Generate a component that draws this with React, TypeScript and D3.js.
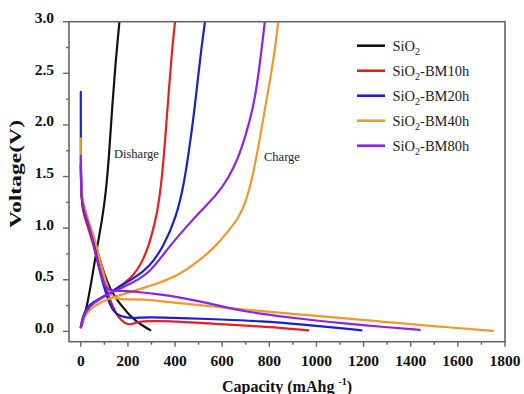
import React from "react";
import * as d3 from "d3";

// ---------- data (capacity mAh/g, voltage V) ----------
const seriesNames = ["SiO2", "SiO2-BM10h", "SiO2-BM20h", "SiO2-BM40h", "SiO2-BM80h"];
const seriesColors = ["#111111", "#e3211f", "#1c1fcf", "#f0982e", "#8a24e6"];

const sio2Discharge: [number, number][] = [
  [0, 1.62], [2, 1.35], [8, 1.2], [20, 1.1], [35, 1.02], [53, 0.92], [75, 0.74], [100, 0.55],
  [125, 0.41], [152, 0.31], [180, 0.23], [209, 0.15], [240, 0.09], [270, 0.045], [295, 0.012],
];
const sio2Charge: [number, number][] = [
  [3, 0.05], [12, 0.12], [25, 0.23], [45, 0.48], [68, 0.8], [90, 1.07], [108, 1.37], [121, 1.74],
  [134, 2.2], [148, 2.62], [164, 3.0],
];

const bm10Discharge: [number, number][] = [
  [0, 1.6], [2, 1.32], [8, 1.18], [20, 1.08], [35, 0.98], [60, 0.78], [85, 0.58], [110, 0.4],
  [130, 0.27], [150, 0.17], [170, 0.11], [190, 0.075], [210, 0.065], [230, 0.08], [260, 0.1],
  [330, 0.1], [421, 0.095], [550, 0.075], [700, 0.055], [850, 0.035], [965, 0.01],
];
const bm10Charge: [number, number][] = [
  [0, 0.04], [8, 0.13], [25, 0.22], [55, 0.28], [100, 0.34], [130, 0.38], [167, 0.44],
  [223, 0.53], [272, 0.72], [300, 0.92], [325, 1.15], [343, 1.45], [358, 1.85], [371, 2.25],
  [386, 2.7], [400, 3.0],
];

const bm20Discharge: [number, number][] = [
  [0, 2.32], [0, 2.0], [0.5, 1.72], [2, 1.35], [8, 1.2], [20, 1.1], [39, 1.0], [60, 0.8],
  [82, 0.565], [100, 0.42], [117, 0.3], [138, 0.19], [167, 0.145], [216, 0.125], [280, 0.14],
  [421, 0.13], [600, 0.115], [760, 0.1], [950, 0.065], [1099, 0.033], [1191, 0.01],
];
const bm20Charge: [number, number][] = [
  [0, 0.04], [8, 0.14], [25, 0.23], [55, 0.29], [100, 0.34], [167, 0.44], [223, 0.51],
  [294, 0.63], [350, 0.82], [405, 1.1], [440, 1.45], [462, 1.8], [480, 2.1], [497, 2.45],
  [512, 2.75], [527, 3.0],
];

const bm40Discharge: [number, number][] = [
  [0, 1.87], [0, 1.6], [4, 1.28], [15, 1.22], [30, 1.08], [61, 0.89], [80, 0.7], [96, 0.565],
  [115, 0.42], [131, 0.34], [160, 0.31], [200, 0.31], [265, 0.31], [350, 0.29], [477, 0.26],
  [700, 0.21], [900, 0.17], [1099, 0.13], [1300, 0.09], [1500, 0.05], [1749, 0.005],
];
const bm40Charge: [number, number][] = [
  [0, 0.04], [8, 0.11], [25, 0.18], [53, 0.24], [100, 0.3], [150, 0.34], [195, 0.37],
  [294, 0.44], [407, 0.53], [506, 0.69], [570, 0.82], [625, 0.97], [670, 1.1], [700, 1.25],
  [730, 1.5], [758, 1.85], [785, 2.2], [808, 2.5], [825, 2.75], [838, 3.0],
];

const bm80Discharge: [number, number][] = [
  [0, 1.7], [1, 1.4], [6, 1.24], [20, 1.12], [39, 1.0], [60, 0.78], [82, 0.57], [100, 0.45],
  [118, 0.4], [140, 0.39], [170, 0.395], [250, 0.38], [330, 0.36], [421, 0.33], [548, 0.27],
  [620, 0.23], [704, 0.19], [831, 0.15], [960, 0.115], [1099, 0.08], [1300, 0.04], [1438, 0.015],
];
const bm80Charge: [number, number][] = [
  [0, 0.04], [8, 0.13], [32, 0.24], [96, 0.34], [152, 0.4], [220, 0.47], [294, 0.57],
  [364, 0.79], [435, 0.98], [506, 1.16], [576, 1.32], [625, 1.48], [665, 1.66], [700, 1.9],
  [730, 2.15], [752, 2.45], [768, 2.75], [781, 3.0],
];

const seriesCurves = [
  [sio2Discharge, sio2Charge],
  [bm10Discharge, bm10Charge],
  [bm20Discharge, bm20Charge],
  [bm40Discharge, bm40Charge],
  [bm80Discharge, bm80Charge],
];

const xTicks = [0, 200, 400, 600, 800, 1000, 1200, 1400, 1600, 1800];
const xMinorTicks = [100, 300, 500, 700, 900, 1100, 1300, 1500, 1700];
const yTicks = [0, 0.5, 1.0, 1.5, 2.0, 2.5, 3.0];
const yMinorTicks = [0.25, 0.75, 1.25, 1.75, 2.25, 2.75];

// ---------- layout ----------
const W = 524;
const H = 394;
const left = 69;
const right = 505;
const top = 21.7;
const bottom = 341.7;
const serif = "'Liberation Serif', 'Times New Roman', serif";
const axisColor = "#666666";

export default function App() {
  const x = d3.scaleLinear().domain([-50, 1800]).range([left, right]);
  const y = d3.scaleLinear().domain([-0.1, 3.0]).range([bottom, top]);
  const line = d3
    .line<[number, number]>()
    .x((d) => x(d[0]))
    .y((d) => y(d[1]))
    .curve(d3.curveBasis);

  return (
    <svg
      width={W}
      height={H}
      viewBox={`0 0 ${W} ${H}`}
      style={{ position: "absolute", left: 0, top: 0, background: "#fff" }}
    >
      <rect x={0} y={0} width={W} height={H} fill="#fff" />
      <defs>
        <clipPath id="plot">
          <rect x={left} y={top} width={right - left} height={bottom - top} />
        </clipPath>
      </defs>

      {/* curves */}
      <g clipPath="url(#plot)" fill="none" strokeWidth={2.2} strokeLinejoin="round" strokeLinecap="round">
        {seriesCurves.map((pair, i) =>
          pair.map((pts, j) => (
            <path key={`${i}-${j}`} d={line(pts) || ""} stroke={seriesColors[i]} />
          ))
        )}
      </g>

      {/* frame */}
      <rect
        x={left}
        y={top}
        width={right - left}
        height={bottom - top}
        fill="none"
        stroke={axisColor}
        strokeWidth={1.6}
      />

      {/* ticks */}
      <g stroke={axisColor} strokeWidth={1.4}>
        {xTicks.map((t) => (
          <line key={`xt${t}`} x1={x(t)} x2={x(t)} y1={bottom} y2={bottom + 5} />
        ))}
        {xMinorTicks.map((t) => (
          <line key={`xm${t}`} x1={x(t)} x2={x(t)} y1={bottom} y2={bottom + 3} />
        ))}
        {yTicks.map((t) => (
          <line key={`yt${t}`} x1={left - 6} x2={left} y1={y(t)} y2={y(t)} />
        ))}
        {yMinorTicks.map((t) => (
          <line key={`ym${t}`} x1={left - 3} x2={left} y1={y(t)} y2={y(t)} />
        ))}
      </g>

      {/* tick labels */}
      <g fontFamily={serif} fontWeight="bold" fontSize={15.5} fill="#111">
        {xTicks.map((t) => (
          <text key={`xl${t}`} x={x(t)} y={366} textAnchor="middle">
            {t}
          </text>
        ))}
        {yTicks.map((t) => (
          <text key={`yl${t}`} x={54} y={y(t) + 1.5} textAnchor="end">
            {t.toFixed(1)}
          </text>
        ))}
      </g>

      {/* axis titles */}
      <text
        x={287}
        y={392}
        textAnchor="middle"
        fontFamily={serif}
        fontWeight="bold"
        fontSize={16}
        fill="#111"
      >
        Capacity (mAhg
        <tspan dx={4} dy={-7} fontSize={10}>
          -1
        </tspan>
        <tspan dy={7}>)</tspan>
      </text>
      <text
        transform={`translate(21,174) rotate(-90)`}
        textAnchor="middle"
        fontFamily={serif}
        fontWeight="bold"
        fontSize={16}
        fill="#111"
        textLength={108}
        lengthAdjust="spacingAndGlyphs"
      >
        Voltage(V)
      </text>

      {/* annotations */}
      <g fontFamily={serif} fontSize={12.5} fill="#222">
        <text x={114} y={158}>Disharge</text>
        <text x={264} y={161}>Charge</text>
      </g>

      {/* legend */}
      <g fontFamily={serif} fontSize={14.5} fill="#222">
        {seriesNames.map((name, i) => {
          const ly = 45.7 + i * 25;
          const rest = name.slice(4);
          return (
            <g key={name}>
              <line x1={357} x2={385} y1={ly} y2={ly} stroke={seriesColors[i]} strokeWidth={2.6} />
              <text x={392.5} y={ly + 5}>
                SiO
                <tspan dy={4} fontSize={10}>
                  2
                </tspan>
                {rest ? <tspan dy={-4}>{rest}</tspan> : null}
              </text>
            </g>
          );
        })}
      </g>
    </svg>
  );
}
